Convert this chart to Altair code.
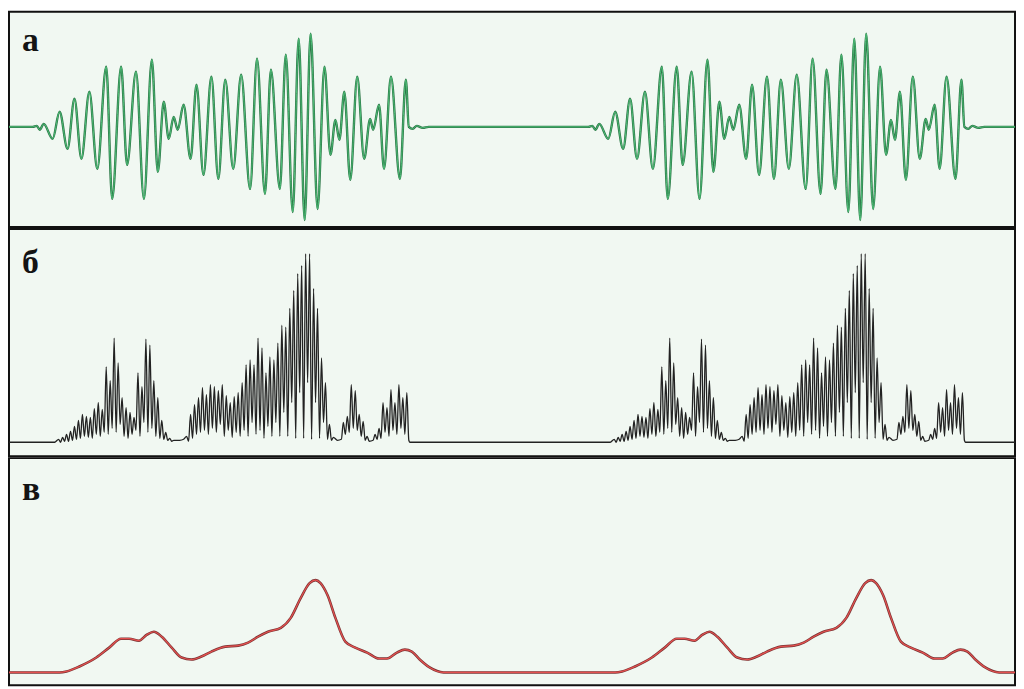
import altair as alt
import pandas as pd

# ---- data (x in time units, values relative to baseline) ----
labels = ["а", "б", "в"]
x_start, x_end = 9, 1023
burst_shift = 560  # second burst repeats the first one this far to the right

# panel а: oscillating signal (extrema of the first burst)
a_x = [33, 37, 40, 44, 53, 60, 68, 75, 82, 90, 98, 107, 113, 122, 128, 137, 145, 153,
       159, 165, 170, 175, 179, 185, 192, 198, 205, 213, 220, 227, 235, 243, 252, 259,
       267, 273, 282, 288, 295, 301, 307, 313, 320, 327, 333, 338, 342, 347, 353, 360,
       367, 373, 376, 382, 387, 394, 403, 409, 412, 416, 420, 426, 432]
a_v = [0, 1, -3, 3, -12, 15, -22, 28, -32, 35, -42, 60, -72, 60, -38, 55, -72, 67,
       -45, 25, -12, 10, -3, 22, -32, 42, -48, 50, -52, 47, -42, 52, -62, 68,
       -67, 57, -62, 72, -85, 88, -93, 93, -82, 60, -28, 7, -13, 35, -53, 50,
       -32, 8, -3, 22, -42, 50, -52, 47, 0, -2, 1, -1, 0]

# panel б: rectified / squared signal (peaks and troughs of the first burst)
b_x = [55, 59, 61, 63, 65, 67, 69, 71, 73, 75, 77, 79, 81, 83, 85, 87, 89, 91, 93, 95,
       97, 99, 101, 103, 105, 107, 109, 111, 113, 115, 117, 119, 121, 123, 125, 127,
       129, 131, 133, 135, 137, 139, 141, 143, 145, 147, 149, 151, 153, 155, 157, 159,
       161, 163, 165, 167, 169, 171, 173, 175, 177, 181, 185, 188, 190, 192, 194, 196,
       198, 200, 202, 204, 206, 208, 210, 212, 214, 216, 218, 220, 222, 224, 226, 228,
       230, 232, 234, 236, 238, 240, 242, 244, 246, 248, 250, 252, 254, 256, 258, 260,
       262, 264, 266, 268, 270, 272, 274, 276, 278, 280, 282, 284, 286, 288, 290, 292,
       294, 296, 298, 300, 302, 304, 306, 308, 310, 312, 314, 316, 318, 320, 322, 324,
       326, 328, 330, 332, 334, 336, 340, 344, 346, 348, 350, 352, 354, 356, 358, 360,
       362, 364, 366, 368, 370, 372, 376, 378, 380, 382, 384, 386, 388, 390, 392, 394,
       396, 398, 400, 402, 404, 406, 408, 410, 412, 413]
b_v = [0, 3, 0, 5, 1, 8, 1, 11, 2, 16, 3, 22, 4, 28, 6, 26, 5, 25, 4, 34,
       8, 40, 6, 33, 10, 76, 8, 62, 14, 105, 10, 80, 18, 45, 6, 35,
       4, 30, 8, 25, 12, 70, 6, 56, 20, 104, 10, 98, 14, 62, 6, 45,
       4, 22, 3, 10, 2, 4, 1, 2, 2, 2, 3, 6, 1, 28, 4, 38,
       8, 45, 10, 55, 12, 48, 8, 58, 14, 56, 10, 52, 18, 58, 6, 47,
       12, 40, 5, 46, 10, 50, 6, 60, 12, 78, 6, 83, 20, 78, 8, 105,
       12, 95, 4, 70, 16, 86, 6, 83, 20, 100, 6, 118, 30, 116, 6, 135,
       40, 153, 4, 170, 50, 178, 4, 190, 60, 190, 3, 155, 40, 135, 4, 85,
       20, 60, 3, 18, 2, 5, 2, 3, 20, 8, 26, 10, 58, 14, 52, 12,
       28, 6, 21, 2, 6, 1, 2, 8, 3, 14, 4, 40, 10, 35, 6, 53,
       12, 40, 8, 58, 14, 45, 8, 50, 2, 0]

# panel в: smoothed envelope of the first burst
c_x = [60, 67, 80, 97, 110, 122, 130, 140, 148, 155, 163, 173, 183, 193, 203, 213, 227,
       240, 250, 260, 270, 283, 293, 303, 312, 318, 323, 330, 338, 348, 358, 370, 382,
       390, 400, 408, 415, 423, 433, 447]
c_v = [0, 1, 6, 15, 25, 34, 34, 32, 38, 41, 36, 25, 15, 13, 16, 21, 26,
       27, 30, 36, 41, 45, 55, 75, 90, 93, 90, 78, 55, 31, 25, 20, 14,
       14, 20, 23, 21, 13, 5, 0]


def build(xs, vs):
    rows = [(x_start, 0)]
    rows += list(zip(xs, vs))
    rows += [(x + burst_shift, v) for x, v in zip(xs, vs)]
    rows += [(x_end, 0)]
    return pd.DataFrame(rows, columns=["t", "v"])


df_a = build(a_x, a_v)
df_b = build(b_x, b_v)
df_c = build(c_x, c_v)

W = 1014
FONT = "Liberation Serif"


def panel(df, height, ydom, layers, label, label_y):
    x = alt.X("t:Q", scale=alt.Scale(domain=[x_start, x_end], nice=False, zero=False), axis=None)
    y = alt.Y("v:Q", scale=alt.Scale(domain=ydom, nice=False, zero=False), axis=None)
    marks = []
    for color, sw in layers:
        marks.append(
            alt.Chart(df).mark_line(color=color, strokeWidth=sw, interpolate="monotone", clip=True)
            .encode(x=x, y=y)
        )
    txt = alt.Chart(pd.DataFrame({"label": [label]})).mark_text(
        font=FONT, fontSize=34, fontWeight="bold", color="#141414", align="left", baseline="alphabetic"
    ).encode(text="label:N", x=alt.value(13), y=alt.value(label_y))
    return alt.layer(*marks, txt).properties(width=W, height=height)


pa = panel(df_a, 217, [-100, 115], [("#2b7646", 2.4), ("#4fbe78", 1.0)], labels[0], 40)
pb = panel(df_b, 229, [-14, 215], [("#222222", 1.3)], labels[1], 44)
pc = panel(df_c, 229, [-13, 216], [("#7a3434", 2.6), ("#e4504f", 1.2)], labels[2], 42)

chart = (
    alt.vconcat(pa, pb, pc, spacing=0)
    .properties(padding=0, background="white")
    .configure_view(stroke="#111", strokeWidth=2, fill="#f1f8f2")
)

chart.save("out.html", embed_options={"renderer": "svg", "actions": False})
